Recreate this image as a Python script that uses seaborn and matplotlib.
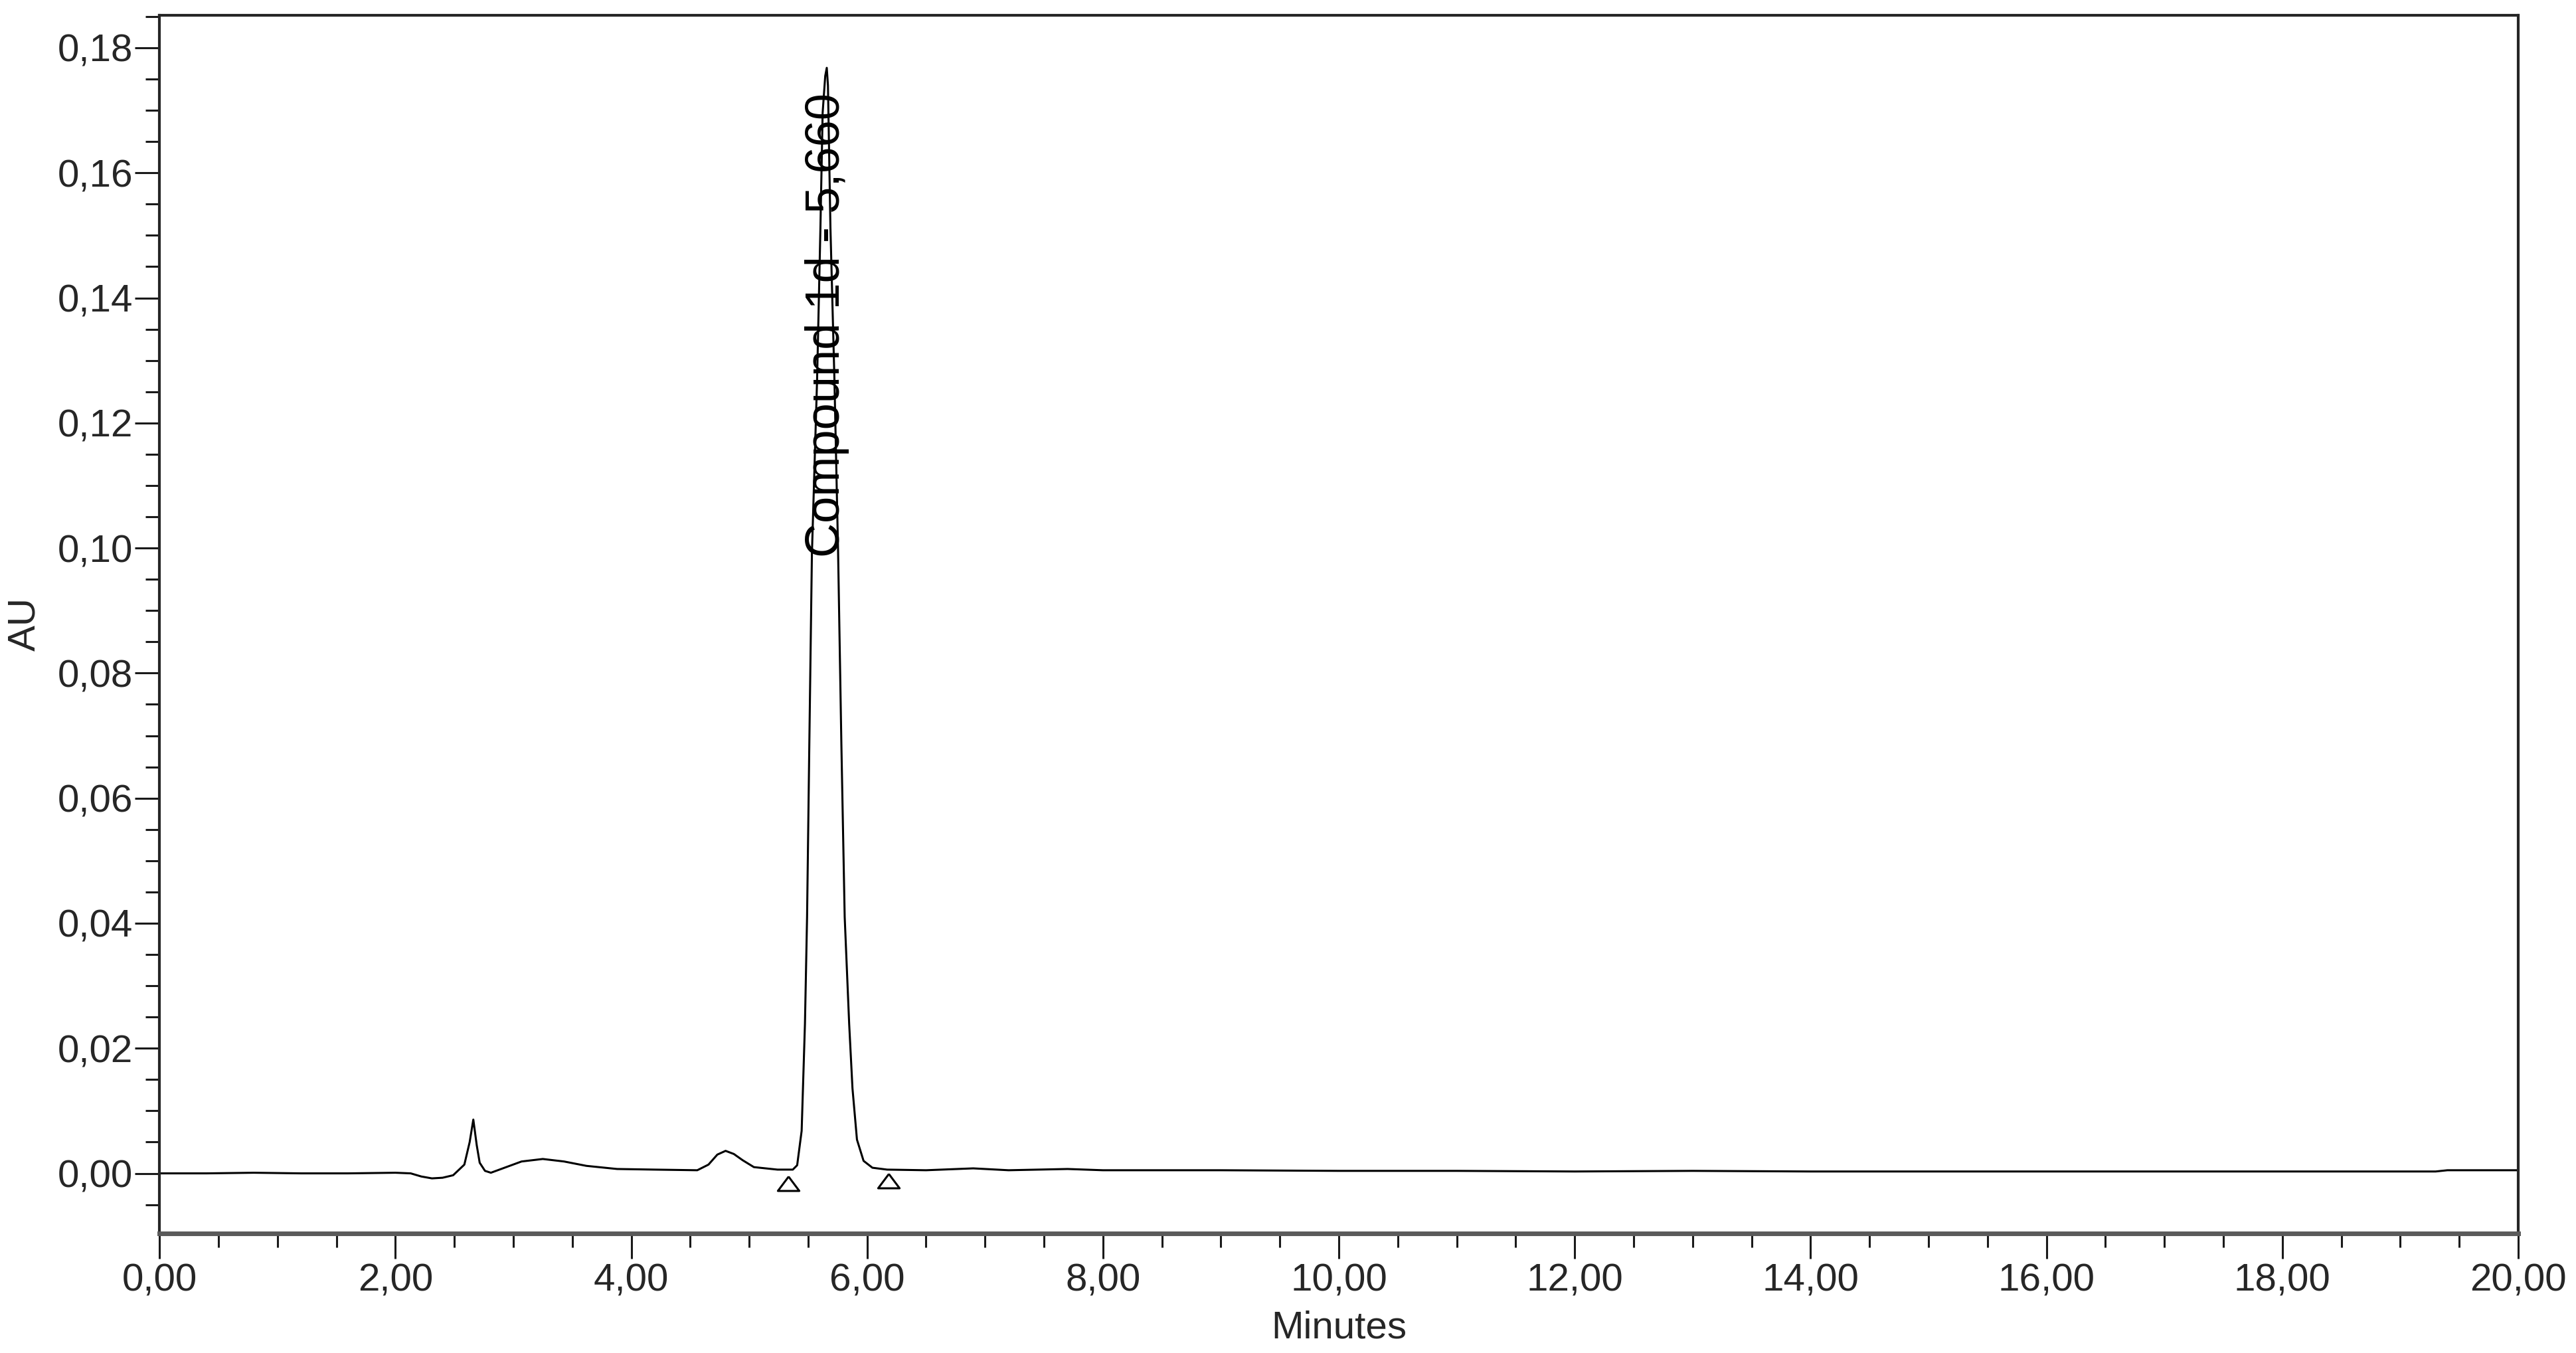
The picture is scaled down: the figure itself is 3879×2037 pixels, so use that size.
import numpy as np
import pandas as pd
import matplotlib
matplotlib.use("Agg")
import matplotlib.pyplot as plt
from matplotlib.ticker import MultipleLocator, FuncFormatter
import seaborn as sns

# ---------------- data ----------------
time_min = [
    0.00, 0.40, 0.80, 1.20, 1.60, 2.00, 2.13, 2.22, 2.31, 2.40, 2.49,
    2.585, 2.63, 2.661, 2.69, 2.715, 2.76, 2.81, 2.94, 3.07, 3.25, 3.43,
    3.62, 3.88, 4.20, 4.56, 4.655, 4.73, 4.80, 4.87, 4.945, 5.04, 5.24,
    5.37, 5.407, 5.445, 5.473, 5.491, 5.510, 5.532, 5.576, 5.604, 5.623,
    5.645, 5.658, 5.668, 5.689, 5.723, 5.754, 5.782, 5.810, 5.848, 5.876,
    5.914, 5.970, 6.045, 6.17, 6.50, 6.90, 7.20, 7.70, 8.00, 9.00, 10.00,
    11.00, 12.00, 13.00, 14.00, 15.00, 16.00, 17.00, 18.00, 19.30, 19.40,
    20.00,
]
absorbance_au = [
    0.0000, 0.0000, 0.0001, 0.0000, 0.0000, 0.0001, 0.0000, -0.0005, -0.0008, -0.0007, -0.0003,
    0.0014, 0.0050, 0.0086, 0.0045, 0.0017, 0.0004, 0.0001, 0.0010, 0.0019, 0.0023, 0.0019,
    0.0012, 0.0007, 0.0006, 0.0005, 0.0014, 0.0030, 0.0036, 0.0031, 0.0021, 0.0010, 0.0006,
    0.0006, 0.0013, 0.0068, 0.0239, 0.0410, 0.0685, 0.0990, 0.1270, 0.1510, 0.1696,
    0.1755, 0.1768, 0.1740, 0.1513, 0.1269, 0.0994, 0.0685, 0.0410, 0.0239, 0.0136,
    0.0054, 0.0020, 0.0009, 0.0006, 0.0005, 0.0008, 0.0005, 0.0007, 0.0005, 0.0005, 0.0004,
    0.0004, 0.0003, 0.0004, 0.0003, 0.0003, 0.0003, 0.0003, 0.0003, 0.0003, 0.0005,
    0.0005,
]

# integration start / end marks
mark_time = [5.33, 6.18]
mark_au = [-0.0005, -0.0001]

peak_label = "Compound 1d - 5,660"
peak_rt = 5.660

x_label = "Minutes"
y_label = "AU"

# ---------------- style ----------------
sns.set_style("white")
plt.rcParams['font.family'] = ['Liberation Sans', 'DejaVu Sans']

fig = plt.figure(figsize=(38.8, 20.37), dpi=100)
ax = fig.add_axes([0.0619, 0.0884, 0.9773 - 0.0619, 0.9887 - 0.0884])

df = pd.DataFrame({"Minutes": time_min, "AU": absorbance_au})
sns.lineplot(data=df, x="Minutes", y="AU", ax=ax, color="black",
             linewidth=2.2, estimator=None, sort=False)

tri = [(0, 0), (-0.75, -1), (0.75, -1), (0, 0)]
ax.plot(mark_time, mark_au, linestyle="none", marker=tri, markersize=31,
        markerfacecolor="white", markeredgecolor="black", markeredgewidth=2.2)

ax.text(peak_rt, 0.0985, peak_label, rotation=90, ha="center", va="bottom",
        fontsize=52, color="black")

ax.set_xlim(0, 20)
ax.set_ylim(-0.0096, 0.1852)

fmt = FuncFormatter(lambda v, p: f"{v:.2f}".replace(".", ","))
ax.xaxis.set_major_locator(MultipleLocator(2))
ax.xaxis.set_minor_locator(MultipleLocator(0.5))
ax.yaxis.set_major_locator(MultipleLocator(0.02))
ax.yaxis.set_minor_locator(MultipleLocator(0.005))
ax.xaxis.set_major_formatter(fmt)
ax.yaxis.set_major_formatter(fmt)

ax.tick_params(which="both", bottom=True, left=True, top=False, right=False,
               direction="out", color="#1a1a1a")
ax.tick_params(which="major", length=27, width=2.2, labelsize=42)
ax.tick_params(which="minor", length=15, width=2.2)
ax.tick_params(axis="x", which="major", pad=5)
ax.tick_params(axis="y", which="major", pad=2)

ax.set_xlabel(x_label, fontsize=42, labelpad=12)
ax.set_ylabel(y_label, fontsize=42, labelpad=16)

for side in ["left", "right", "top"]:
    ax.spines[side].set_visible(True)
    ax.spines[side].set_linewidth(3)
    ax.spines[side].set_color("#262626")
ax.spines["bottom"].set_visible(True)
ax.spines["bottom"].set_linewidth(5)
ax.spines["bottom"].set_color("#5a5a5a")

fig.savefig("out.png", dpi=100, facecolor="white")
